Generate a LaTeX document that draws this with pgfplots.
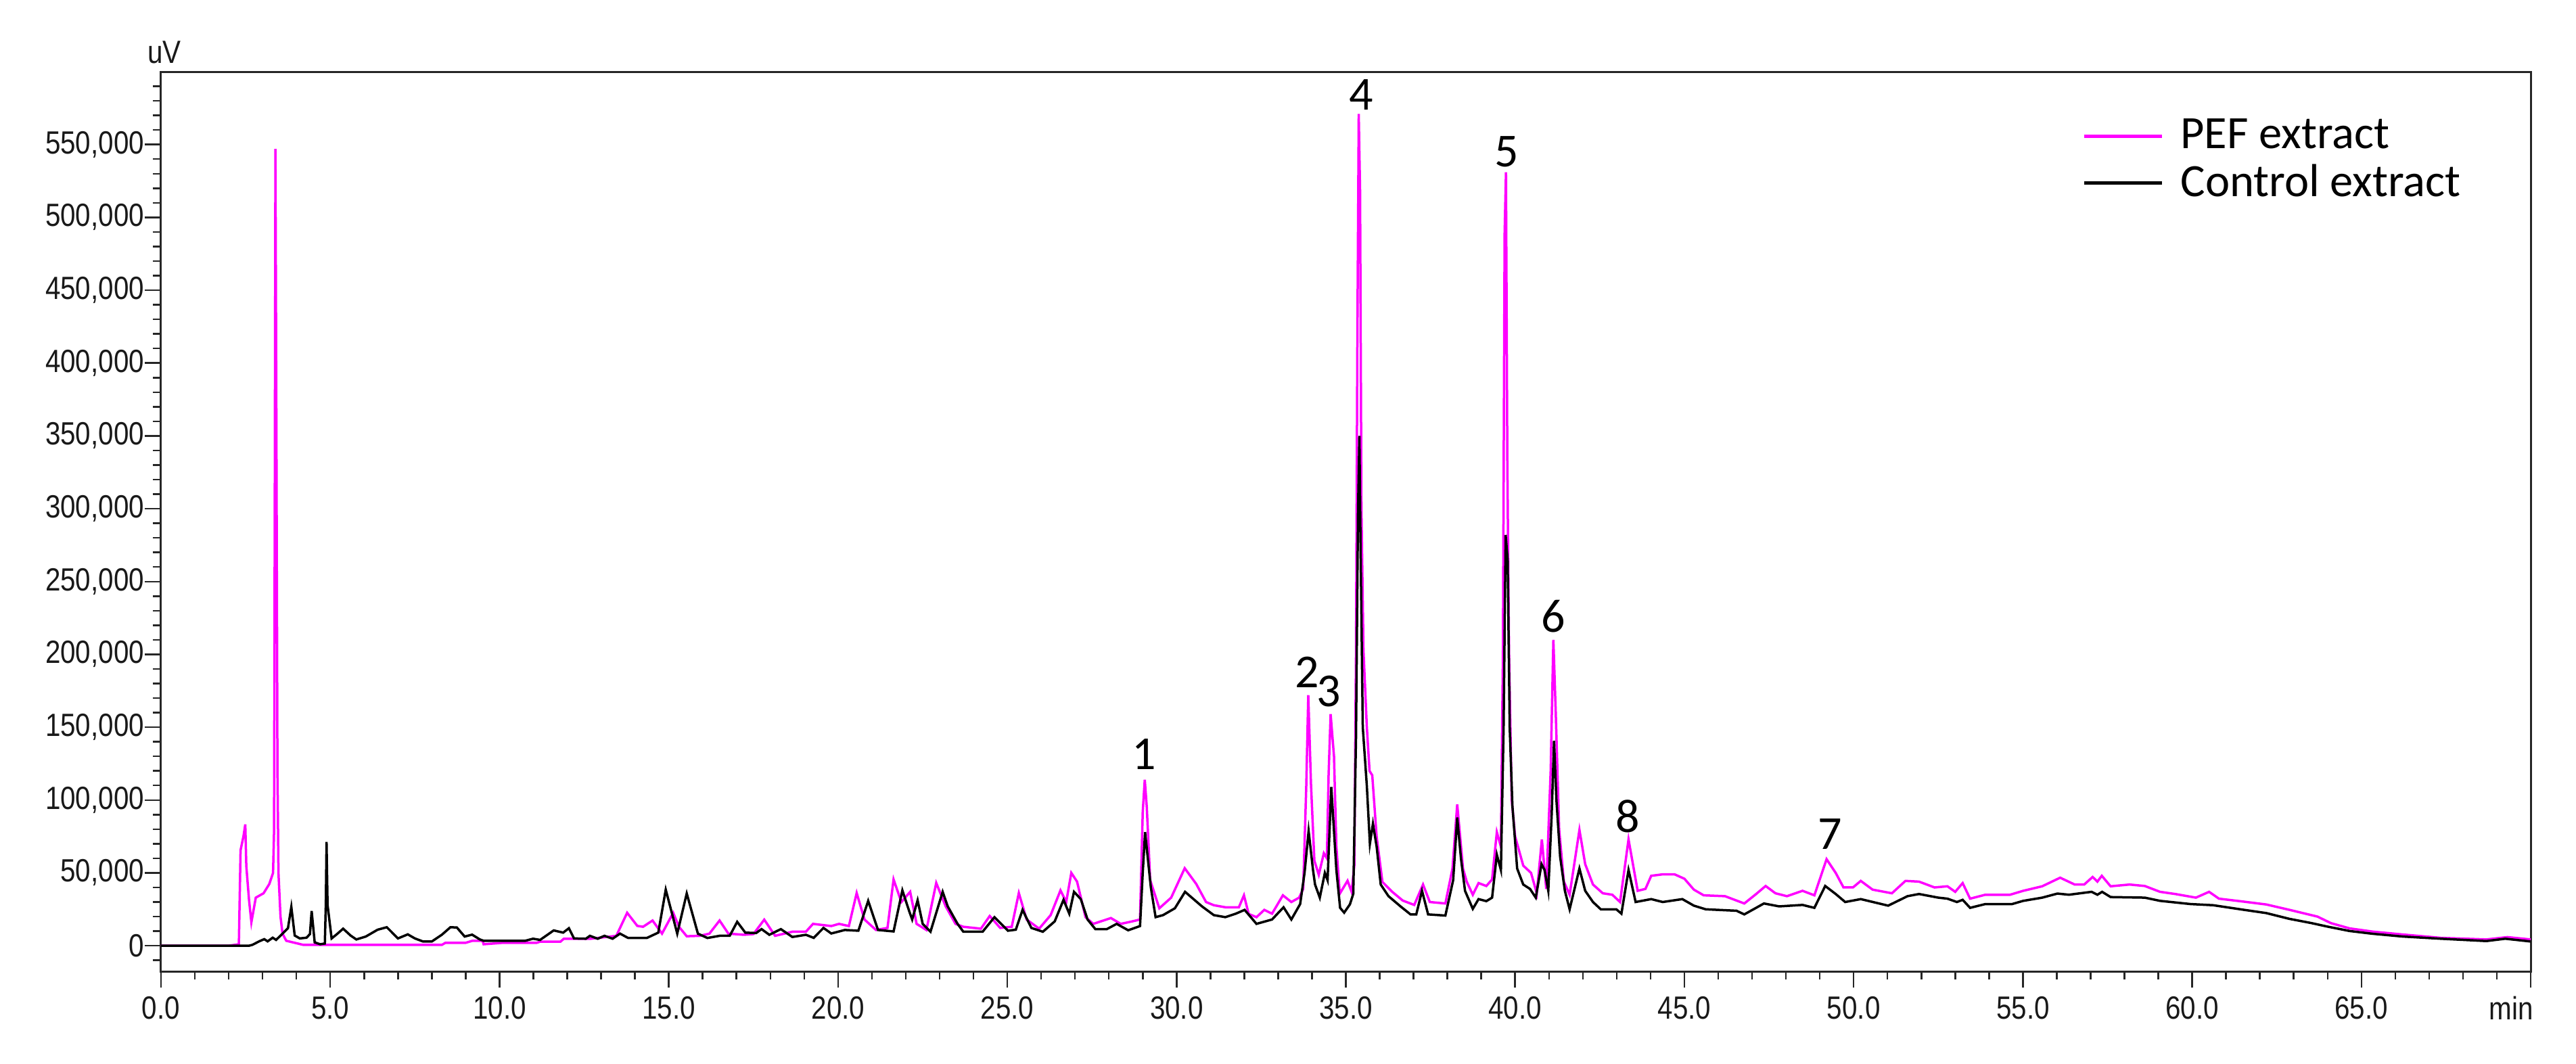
\documentclass[border=0pt]{standalone}
\usepackage{pgfplots}
\pgfplotsset{compat=1.18}
\usepackage{fontspec}
\newfontfamily\tickfont{Liberation Sans}[FakeStretch=0.85]
\newfontfamily\calib{Carlito}
\definecolor{pefpink}{RGB}{255,0,255}
\pgfplotstableread{
x y
0 0
2.0 0
2.3 1000
2.35 65500
2.44 75600
2.49 83300
2.52 54700
2.6 31500
2.67 16100
2.8 33000
3.03 36000
3.2 42400
3.31 50000
3.34 79000
3.36 290000
3.38 547000
3.41 350000
3.44 120000
3.47 50000
3.53 20000
3.59 8300
3.7 3400
4.2 600
8.3 600
8.4 2000
9.0 2000
9.2 3400
9.5 3400
9.53 1000
10.1 2000
11.1 2000
11.2 2800
11.8 2800
11.9 4800
12.7 4800
13.45 6800
13.77 22600
14.07 13600
14.24 13000
14.52 17300
14.8 8300
15.13 22600
15.3 13000
15.53 6500
15.92 6800
16.2 8300
16.5 17300
16.76 8300
17.22 7500
17.5 8000
17.82 17900
18.14 6800
18.65 9600
19.05 9600
19.26 15000
19.8 13500
20.03 15000
20.32 13500
20.55 36200
20.78 18000
21.12 10800
21.46 12200
21.64 45500
21.87 30000
22.13 37000
22.32 15000
22.61 10800
22.9 43100
23.18 27000
23.47 15000
23.7 13000
24.22 11700
24.48 20400
24.79 12200
25.13 13000
25.34 36200
25.57 18000
25.94 11700
26.28 21000
26.57 38000
26.74 30000
26.89 50000
27.06 44000
27.31 19600
27.54 15000
28.06 19000
28.35 15000
28.69 16700
28.92 18000
29.0 91800
29.06 114000
29.12 95000
29.22 45000
29.49 25700
29.84 33000
30.24 53200
30.58 42400
30.87 30000
31.1 27800
31.44 26400
31.84 26400
31.99 34600
32.13 21800
32.36 19600
32.59 24600
32.82 22000
33.14 34600
33.39 30000
33.62 33000
33.74 39000
33.83 109000
33.89 172000
33.97 111000
34.07 58400
34.2 48700
34.35 63500
34.44 60000
34.49 117000
34.55 159000
34.65 130000
34.72 68000
34.82 35700
35.05 44600
35.17 37000
35.25 55000
35.3 200000
35.34 415000
35.38 571000
35.42 518000
35.46 300000
35.52 203000
35.62 150000
35.7 120000
35.78 117000
35.91 74700
36.08 43800
36.37 37000
36.68 31000
37.02 28000
37.28 42000
37.48 30000
37.94 29000
38.15 53000
38.29 97000
38.46 53000
38.57 44000
38.75 35000
38.92 43000
39.15 41000
39.32 45500
39.46 78000
39.58 68000
39.64 200000
39.69 489000
39.73 531000
39.77 334000
39.82 200000
39.9 100000
40.0 75000
40.24 55000
40.47 50000
40.64 36000
40.79 73000
40.92 39000
41.05 120000
41.13 210000
41.2 160000
41.3 80000
41.44 44000
41.61 35000
41.9 79500
42.07 56000
42.3 42000
42.59 36000
42.87 35000
43.1 30000
43.35 73000
43.62 37700
43.85 39000
44.02 48000
44.36 49000
44.71 49000
45.0 46000
45.28 38500
45.57 34600
46.2 34000
46.77 29000
47.12 35500
47.4 41000
47.69 36000
48.03 34000
48.49 37700
48.84 34600
49.2 59400
49.47 50000
49.7 40000
49.98 40000
50.21 44500
50.56 38500
51.13 36000
51.53 44500
51.93 44000
52.39 40000
52.77 40800
53.0 37000
53.22 43000
53.44 32300
53.89 35000
54.62 35000
55.01 37700
55.57 40800
56.1 46700
56.53 42000
56.81 42000
57.06 47200
57.2 44000
57.33 48000
57.59 40800
58.15 42000
58.6 41000
59.05 37000
59.5 35500
60.11 33000
60.5 37000
60.79 32300
61.51 30300
62.19 28300
62.86 24700
63.7 20000
64.1 15500
64.65 11900
65.33 9700
66.22 7700
67.34 5400
68.69 4300
69.31 5900
70.0 4300
}\pef
\pgfplotstableread{
x y
0 0
2.6 0
2.7 600
2.9 3000
3.05 4500
3.15 3000
3.3 5500
3.4 4000
3.59 8300
3.75 12000
3.85 26600
3.95 7000
4.1 5000
4.3 5500
4.4 8000
4.45 23800
4.54 2300
4.7 1000
4.84 1500
4.87 30000
4.89 71300
4.92 28000
5.04 5000
5.2 8000
5.38 11700
5.6 7000
5.77 4300
6.05 6300
6.4 11000
6.67 12700
7.0 5000
7.29 7800
7.5 5000
7.74 2900
8.0 2900
8.3 7600
8.55 12700
8.74 12500
8.97 6300
9.19 7600
9.42 4300
9.53 3400
10.76 3400
10.99 4800
11.2 4000
11.6 10500
11.88 9000
12.05 12000
12.2 5000
12.55 4800
12.67 6800
12.9 4800
13.1 6800
13.34 4800
13.56 8300
13.8 5300
14.35 5300
14.69 9000
14.91 38500
15.25 8300
15.53 35900
15.86 8300
16.14 5300
16.5 6800
16.8 6800
17.02 16400
17.26 9000
17.58 8700
17.74 11400
17.97 7500
18.31 11400
18.65 6000
19.05 7500
19.28 5400
19.57 12200
19.8 8400
20.2 10800
20.6 10300
20.89 30800
21.18 10800
21.64 9800
21.9 38000
22.1 23800
22.19 18000
22.35 31200
22.5 15000
22.73 9600
23.09 37000
23.24 27000
23.53 15000
23.7 9600
24.27 9600
24.62 19600
25.02 10300
25.25 11000
25.45 24600
25.71 12200
26.05 9600
26.4 16700
26.66 31500
26.83 22000
26.97 37000
27.17 32000
27.37 18000
27.6 11400
27.94 11400
28.23 15000
28.57 10600
28.92 13500
29.0 50000
29.07 78000
29.15 60000
29.24 40000
29.38 19600
29.6 21000
29.95 25700
30.25 37000
30.75 27000
31.1 21000
31.44 19600
31.75 22000
32.01 24600
32.36 15000
32.82 18000
33.16 26400
33.39 18000
33.65 28600
33.78 50000
33.9 78800
34.03 52000
34.09 42000
34.23 33000
34.38 50000
34.46 45000
34.57 109000
34.72 52000
34.83 26000
34.95 22700
35.12 28400
35.22 35700
35.3 143000
35.36 299000
35.4 350000
35.44 264000
35.5 150000
35.62 109700
35.71 70000
35.8 83700
35.91 68000
36.03 42000
36.26 34000
36.62 26900
36.91 21500
37.08 21500
37.25 37700
37.43 21500
37.94 20700
38.17 45000
38.29 88000
38.4 60000
38.52 37700
38.75 25300
38.92 32000
39.15 30600
39.32 33000
39.46 62500
39.58 52000
39.66 150000
39.72 282000
39.78 265000
39.84 150000
39.92 96000
40.06 53000
40.24 42000
40.44 39000
40.61 33000
40.78 56000
40.87 52000
40.98 37700
41.08 90000
41.15 140700
41.22 100000
41.33 61000
41.47 37700
41.61 25000
41.9 53000
42.07 37700
42.3 30000
42.53 25000
42.99 25000
43.14 22000
43.35 52000
43.56 30000
44.02 32000
44.36 30000
44.94 32000
45.28 27500
45.63 25000
46.54 24000
46.77 21500
47.35 29000
47.8 27000
48.49 28000
48.84 26000
49.16 41000
49.47 35500
49.75 30000
50.21 32000
51.02 27500
51.59 34000
51.93 35500
52.5 33000
52.77 32300
53.05 30000
53.22 31500
53.44 26000
53.89 28600
54.68 28600
55.01 30800
55.57 33000
56.02 35800
56.36 35000
57.03 37000
57.2 35000
57.34 37000
57.59 33400
58.6 33000
59.05 30800
59.95 28600
60.62 27800
61.51 24700
62.19 22400
62.86 18500
63.53 15500
63.98 13200
64.65 10100
65.33 8200
66.22 6300
67.34 4800
68.69 3200
69.25 4800
70.0 2900
}\control
\begin{document}
\begin{tikzpicture}
\begin{axis}[
  scale only axis,
  width=700.6pt, height=266pt,
  xmin=0, xmax=70, ymin=-17600, ymax=600000,
  axis line style={line width=0.6pt, black!85},
  tick style={line width=0.5pt, black!85},
  tick align=outside,
  xtick pos=bottom, ytick pos=left,
  major tick length=4.8pt, minor tick length=2.4pt,
  xtick={0,5,...,70},
  xticklabels={0.0,5.0,10.0,15.0,20.0,25.0,30.0,35.0,40.0,45.0,50.0,55.0,60.0,65.0,\makebox[0pt][r]{min\kern-0.8pt}},
  minor x tick num=4,
  ytick={0,50000,...,550000},
  yticklabels={0,{50,000},{100,000},{150,000},{200,000},{250,000},{300,000},{350,000},{400,000},{450,000},{500,000},{550,000}},
  minor ytick={-10000,0,...,590000},
  scaled y ticks=false,
  /pgf/number format/assume math mode=true,
  ticklabel style={font=\tickfont\fontsize{9.5}{11}\selectfont, text=black!90},
  xticklabel style={anchor=north, inner sep=0pt, yshift=-2.5pt},
  yticklabel style={anchor=east, inner sep=0pt},
  legend style={at={(rel axis cs:0.8106,0.952)}, anchor=north west, draw=none, fill=none,
     font=\calib\fontsize{13.7}{15}\selectfont, row sep=1.2pt, column sep=4pt, inner sep=0pt,
     nodes={inner sep=1pt}},
  legend cell align=left,
  legend image code/.code={\draw[#1, line width=1pt] (0pt,0pt) -- (23pt,0pt);},
]
\addplot[pefpink, line width=0.7pt] table[x=x,y=y] {\pef};
\addlegendentry{PEF extract}
\addplot[black, line width=0.7pt] table[x=x,y=y] {\control};
\addlegendentry{Control extract}
\begin{scope}[every node/.style={font=\calib\fontsize{14}{16}\selectfont, anchor=base, inner sep=0pt}]
\node at (axis cs:29.04,121000) {1};
\node at (axis cs:33.86,177000) {2};
\node at (axis cs:34.5,164000) {3};
\node at (axis cs:35.46,574000) {4};
\node at (axis cs:39.75,535000) {5};
\node at (axis cs:41.13,215500) {6};
\node at (axis cs:49.31,66300) {7};
\node at (axis cs:43.33,78000) {8};
\end{scope}
\end{axis}
\node[anchor=base, xshift=1pt, yshift=2.6pt, font=\tickfont\fontsize{9.5}{11}\selectfont, text=black!90] at (current axis.north west) {uV};
\path (current axis.south west) ++(-47.6pt,-27.2pt) rectangle ++(761.6pt,314.4pt);
\end{tikzpicture}
\end{document}
